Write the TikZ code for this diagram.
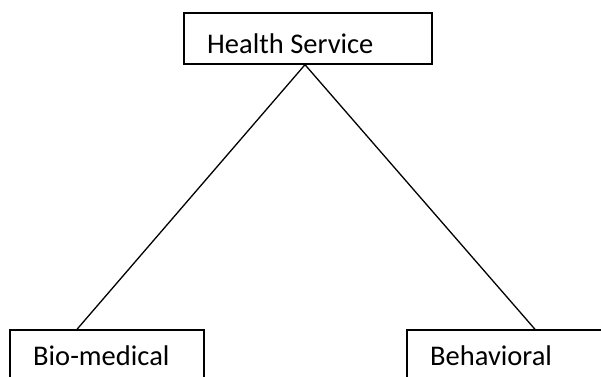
\documentclass[tikz,border=0pt]{standalone}
\usepackage{fontspec}
\setmainfont{Carlito}
\begin{document}
\begin{tikzpicture}[x=1pt,y=-1pt,
  box/.style={draw=black, line width=1.4pt, rectangle, inner sep=0pt},
  label text/.style={anchor=base west, inner sep=0pt, font=\fontsize{28.5}{34}\selectfont},
  link/.style={draw=black, line width=1.3pt}]
  \useasboundingbox (0,0) rectangle (601,376);
  \clip (0,0) rectangle (601,376);
  % boxes
  \node[box, minimum width=248pt, minimum height=51pt] (top) at (308,38.5) {};
  \node[box, minimum width=194pt, minimum height=70pt] (bio) at (107,365) {};
  \node[box, minimum width=213pt, minimum height=70pt] (beh) at (513.5,365) {};
  % texts
  \node[label text] (toptext) at (207,53) {Health Service};
  \node[label text] (biotext) at (33,365) {Bio-medical};
  \node[label text] (behtext) at (430,365) {Behavioral};
  % connectors
  \draw[link] ([xshift=-3pt]top.south) -- ([xshift=-30pt]bio.north);
  \draw[link] ([xshift=-3pt]top.south) -- ([xshift=21.5pt]beh.north);
\end{tikzpicture}
\end{document}
